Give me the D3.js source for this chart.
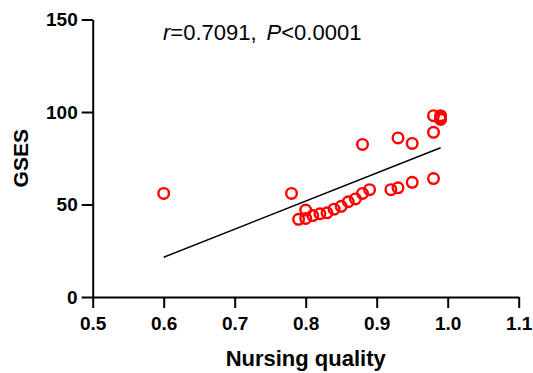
<!DOCTYPE html>
<html>
<head>
<meta charset="utf-8">
<script src="https://cdn.jsdelivr.net/npm/d3@7"></script>
<style>
  html, body { margin: 0; padding: 0; background: #fff; }
  svg { display: block; font-family: "Liberation Sans", Arial, Helvetica, sans-serif; }
</style>
</head>
<body>
<div id="chart"></div>
<script>
// values
const nursingQuality = [0.60, 0.78, 0.79, 0.80, 0.80, 0.81, 0.82, 0.83, 0.84, 0.85, 0.86, 0.87, 0.88,
  0.89, 0.92, 0.93, 0.95, 0.98, 0.88, 0.93, 0.95, 0.98, 0.98, 0.99, 0.99, 0.99];
const gses = [56, 56, 42, 47, 42.5, 44, 45, 45.5, 47.5, 49, 51.5, 53, 56,
  58, 58, 59, 62, 64, 82.5, 86, 83, 89, 98, 98, 96, 97];
const fitX = [0.60, 0.99];
const fitY = [21.5, 80.7];
const xTicks = [0.5, 0.6, 0.7, 0.8, 0.9, 1.0, 1.1];
const yTicks = [0, 50, 100, 150];

const width = 533, height = 373;
const margin = { top: 19.5, right: 14.3, bottom: 76, left: 92.7 };
const innerW = width - margin.left - margin.right;
const innerH = height - margin.top - margin.bottom;

const svg = d3.select('#chart').append('svg')
  .attr('width', width)
  .attr('height', height);

const g = svg.append('g')
  .attr('transform', `translate(${margin.left},${margin.top})`);

const x = d3.scaleLinear().domain([0.5, 1.1]).range([0, innerW]);
const y = d3.scaleLinear().domain([0, 150]).range([innerH, 0]);

const styleAxis = sel => {
  sel.select('.domain').attr('stroke', '#000').attr('stroke-width', 2);
  sel.selectAll('.tick line').attr('stroke', '#000').attr('stroke-width', 2);
  sel.selectAll('.tick text')
    .attr('fill', '#000')
    .style('font-size', '19px')
    .style('font-weight', 'bold');
};

g.append('g')
  .attr('transform', `translate(0,${innerH})`)
  .call(d3.axisBottom(x).tickValues(xTicks).tickFormat(d3.format('.1f')).tickSize(11).tickSizeOuter(0).tickPadding(9))
  .call(styleAxis);

g.append('g')
  .call(d3.axisLeft(y).tickValues(yTicks).tickSize(11).tickSizeOuter(0).tickPadding(4))
  .call(styleAxis);

// fitted line
g.append('path')
  .datum(d3.zip(fitX, fitY))
  .attr('fill', 'none')
  .attr('stroke', '#000')
  .attr('stroke-width', 1.5)
  .attr('d', d3.line().x(d => x(d[0])).y(d => y(d[1])));

// points
g.selectAll('circle.pt')
  .data(d3.zip(nursingQuality, gses))
  .join('circle')
  .attr('class', 'pt')
  .attr('cx', d => x(d[0]))
  .attr('cy', d => y(d[1]))
  .attr('r', 5.3)
  .attr('fill', 'none')
  .attr('stroke', '#ff0000')
  .attr('stroke-width', 2.4);

// axis titles
svg.append('text')
  .attr('x', margin.left + innerW / 2)
  .attr('y', 366)
  .attr('text-anchor', 'middle')
  .style('font-size', '22px')
  .style('font-weight', 'bold')
  .text('Nursing quality');

svg.append('text')
  .attr('transform', `translate(28,${margin.top + innerH / 2}) rotate(-90)`)
  .attr('text-anchor', 'middle')
  .style('font-size', '21px')
  .style('font-weight', 'bold')
  .text('GSES');

// stats annotation
const ann = svg.append('text')
  .attr('x', 163)
  .attr('y', 40)
  .style('font-size', '22px');
ann.append('tspan').style('font-style', 'italic').text('r');
ann.append('tspan').text('=0.7091,');
ann.append('tspan').attr('dx', 10).style('font-style', 'italic').text('P');
ann.append('tspan').text('<0.0001');
</script>
</body>
</html>
